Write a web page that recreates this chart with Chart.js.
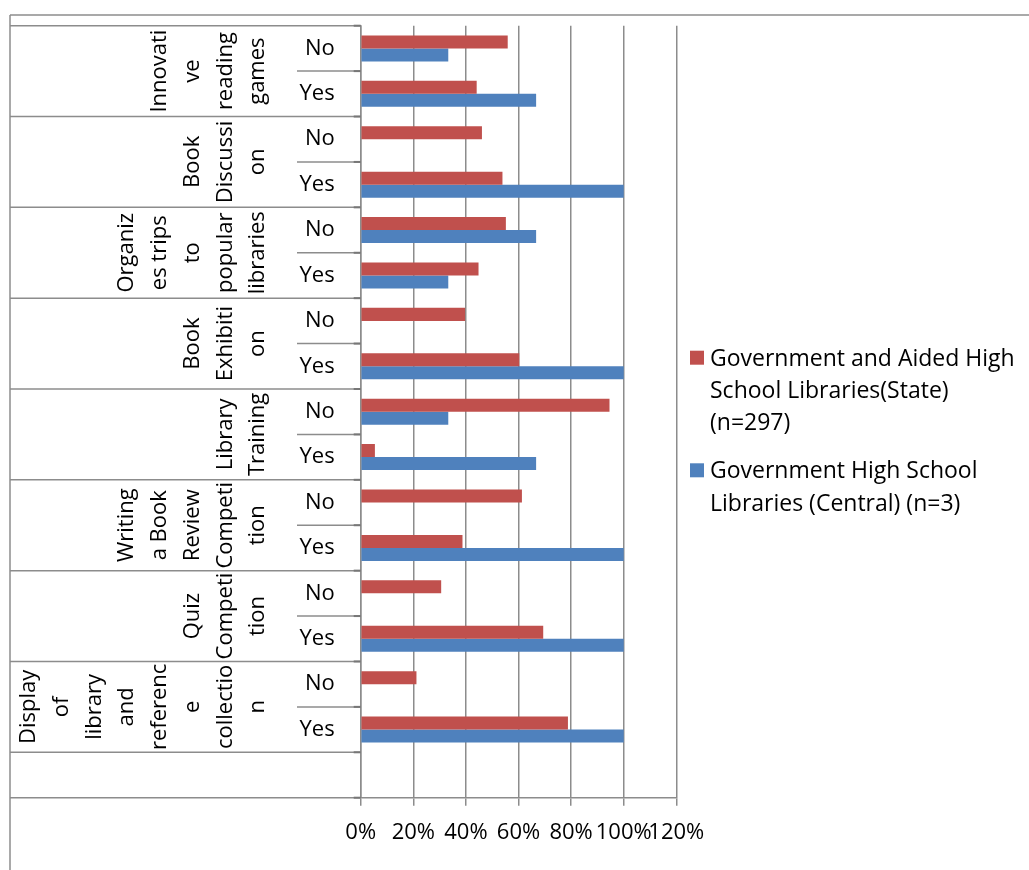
<!DOCTYPE html>
<html>
<head>
<meta charset="utf-8">
<script src="https://cdn.jsdelivr.net/npm/chart.js@4.4.0/dist/chart.umd.min.js"></script>
<style>
html,body{margin:0;padding:0;background:#fff;overflow:hidden}
canvas{display:block}
</style>
</head>
<body>
<canvas id="c" width="1029" height="870"></canvas>
<script>
// ---- data ----
const groups = [
  "Innovative reading games",
  "Book Discussion",
  "Organizes trips to popular libraries",
  "Book Exhibition",
  "Library Training",
  "Writing a Book Review Competition",
  "Quiz Competition",
  "Display of library and reference collection"
];
// group names wrapped as in the reference (each line is one rotated column)
const groupLines = [
  ["Innovati", "ve", "reading", "games"],
  ["Book", "Discussi", "on"],
  ["Organiz", "es trips", "to", "popular", "libraries"],
  ["Book", "Exhibiti", "on"],
  ["Library", "Training"],
  ["Writing", "a Book", "Review", "Competi", "tion"],
  ["Quiz", "Competi", "tion"],
  ["Display", "of", "library", "and", "referenc", "e", "collectio", "n"]
];
const answers = ["No", "Yes"];
const stateValues   = [55.9, 44.1, 46.1, 53.9, 55.2, 44.8, 39.7, 60.3, 94.6, 5.4, 61.3, 38.7, 30.6, 69.4, 21.2, 78.8, null];
const centralValues = [33.3, 66.7, 0, 100, 66.7, 33.3, 0, 100, 33.3, 66.7, 0, 100, 0, 100, 0, 100, null];
const seriesNames = [
  "Government and Aided High School Libraries(State) (n=297)",
  "Government High School Libraries (Central) (n=3)"
];
const legendLines = [
  ["Government and Aided High", "School Libraries(State)", "(n=297)"],
  ["Government High School", "Libraries (Central) (n=3)"]
];
const xTicks = [0, 20, 40, 60, 80, 100, 120];
const seriesColors = ["#C0504D", "#4F81BD"];

const categories = [];
groups.forEach(() => answers.forEach(a => categories.push(a)));
categories.push("");

const FONT = "'Open Sans', sans-serif";
Chart.defaults.font.family = FONT;
Chart.defaults.font.size = 22;
Chart.defaults.color = "#000";

const GRID = "#8c8c8c";

const tablePlugin = {
  id: "tablePlugin",
  afterDraw(chart) {
    const ctx = chart.ctx;
    const ys = chart.scales.y;
    const ca = chart.chartArea;
    const h = ys.getPixelForValue(1) - ys.getPixelForValue(0);
    const top = ys.getPixelForValue(0) - h / 2;
    const frameLeft = 10;
    const frameTop = 15;
    const line = (x1, y1, x2, y2) => { ctx.beginPath(); ctx.moveTo(x1, y1); ctx.lineTo(x2, y2); ctx.stroke(); };
    ctx.save();
    ctx.strokeStyle = GRID;
    ctx.lineWidth = 1.5;
    // outer frame (top and left edges)
    line(frameLeft, frameTop, chart.width, frameTop);
    line(frameLeft, frameTop, frameLeft, chart.height);
    // category table lines
    const n = categories.length;
    for (let k = 0; k <= n; k++) {
      const yy = top + k * h;
      const full = (k % 2 === 0) || k >= 2 * groups.length;
      line(full ? frameLeft : ca.left - 63.7, yy, ca.left, yy);
    }
    // axis tick marks
    ctx.strokeStyle = "#777";
    ctx.lineWidth = 2;
    for (let k = 0; k <= n; k++) {
      const yy = top + k * h;
      line(ca.left - 7, yy, ca.left, yy);
    }
    // rotated group labels
    ctx.fillStyle = "#000";
    ctx.font = "22px " + FONT;
    ctx.textAlign = "center";
    ctx.textBaseline = "middle";
    groupLines.forEach((lines, g) => {
      const cy = top + (2 * g + 1) * h;
      lines.forEach((t, i) => {
        const cx = ca.left - 102.7 - (lines.length - 1 - i) * 32.7;
        ctx.save();
        ctx.translate(cx, cy);
        ctx.rotate(-Math.PI / 2);
        ctx.fillText(t, 0, 0);
        ctx.restore();
      });
    });
    // legend
    ctx.font = "23px " + FONT;
    ctx.textAlign = "left";
    ctx.textBaseline = "alphabetic";
    const starts = [365.7, 478.3];
    const lh = 32.3;
    legendLines.forEach((lines, i) => {
      const b = starts[i];
      ctx.fillStyle = seriesColors[i];
      ctx.fillRect(690, b - 15, 14, 14);
      ctx.fillStyle = "#000";
      lines.forEach((t, j) => ctx.fillText(t, 710, b + j * lh));
    });
    ctx.restore();
  }
};

new Chart(document.getElementById("c"), {
  type: "bar",
  data: {
    labels: categories,
    datasets: [
      { label: seriesNames[0], data: stateValues, backgroundColor: seriesColors[0], borderWidth: 0 },
      { label: seriesNames[1], data: centralValues, backgroundColor: seriesColors[1], borderWidth: 0 }
    ]
  },
  options: {
    indexAxis: "y",
    responsive: false,
    animation: false,
    categoryPercentage: 0.573,
    barPercentage: 1,
    layout: { padding: { top: 25.7, right: 352.7, left: 0, bottom: 0 } },
    plugins: { legend: { display: false }, tooltip: { enabled: false } },
    scales: {
      x: {
        min: xTicks[0],
        max: xTicks[xTicks.length - 1],
        afterBuildTicks(s) { s.ticks = xTicks.map(v => ({ value: v })); },
        ticks: {
          autoSkip: false, maxRotation: 0, minRotation: 0, padding: 14,
          callback: v => v + "%"
        },
        grid: { color: GRID, lineWidth: 1.5, drawTicks: true, tickLength: 8 },
        border: { display: true, color: GRID, width: 1.5 },
        afterFit(s) { s.height = 72.3; s.paddingLeft = 0; s.paddingRight = 0; }
      },
      y: {
        ticks: { autoSkip: false, padding: 26 },
        grid: { display: false, drawTicks: false },
        border: { display: true, color: GRID, width: 1.5 },
        afterFit(s) { s.width = 360.7; s.paddingTop = 0; s.paddingBottom = 0; }
      }
    }
  },
  plugins: [tablePlugin]
});
</script>
</body>
</html>
